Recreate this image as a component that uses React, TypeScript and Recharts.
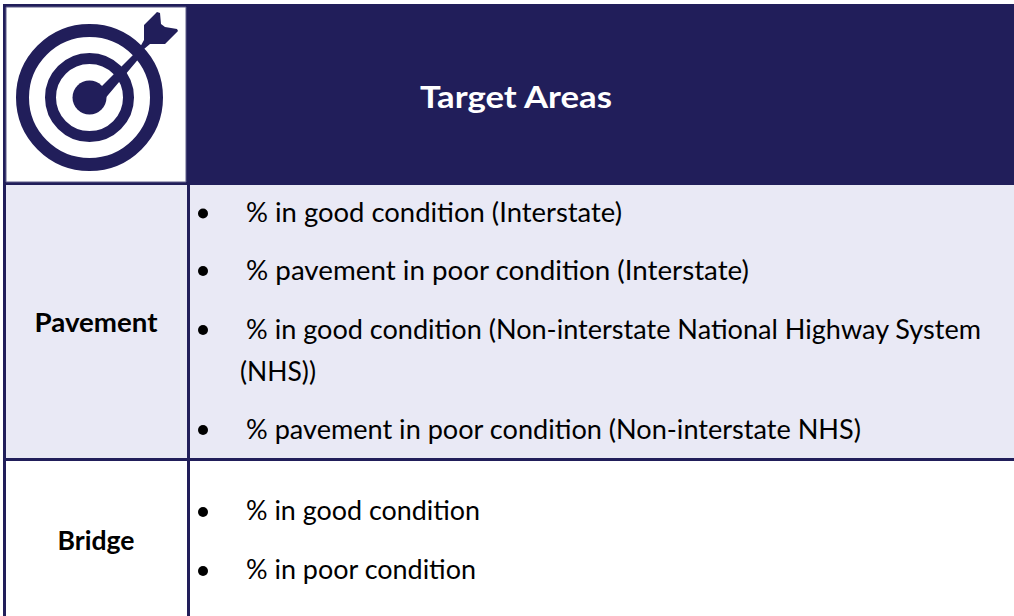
import React from "react";
import { ComposedChart, XAxis, YAxis, ReferenceArea, ReferenceDot } from "recharts";

const W = 1014;
const H = 616;
const NAVY = "#211e5a";
const LAVENDER = "#e9e9f5";
const FONT = "Lato, Carlito, sans-serif";

const title = "Target Areas";
const rowLabels = ["Pavement", "Bridge"];
const pavementItems = [
  "% in good condition (Interstate)",
  "% pavement in poor condition (Interstate)",
  "% in good condition (Non-interstate National Highway System",
  "(NHS))",
  "% pavement in poor condition (Non-interstate NHS)",
];
const bridgeItems = ["% in good condition", "% in poor condition"];

// layout only
const rowLabelY = [332, 550];
const rowLabelWidths = [123, 77];
const itemBaselines = [222, 280, 339, 381, 439, 520, 579];
const itemX = [246, 246, 246, 240, 246, 246, 246];
const itemWidths = [376, 503, 735, 76, 615, 234, 230];
const bulleted = [true, true, true, false, true, true, true];
const bulletX = 203;
const bulletY = [213.5, 271, 330, 0, 430, 512, 571];

const allItems = [...pavementItems, ...bridgeItems];

function Overlay() {
  return (
    <g>
      <path
        d="M103 101 L95 93 L139 49 L144 40 L144 25 L157 12 L160 13 L161 24 L165 27 L177 29 L178 31 L165 44 L150 44 L144 49 L141 56 Z"
        fill={NAVY}
      />
      <text x={516} y={108} textAnchor="middle" fill="#ffffff" fontFamily={FONT} fontWeight={700} fontSize={30} textLength={192} lengthAdjust="spacingAndGlyphs">
        {title}
      </text>
      {rowLabels.map((t, i) => (
        <text key={t} x={96} y={rowLabelY[i]} textAnchor="middle" fill="#000" fontFamily={FONT} fontWeight={700} fontSize={26} textLength={rowLabelWidths[i]} lengthAdjust="spacingAndGlyphs">
          {t}
        </text>
      ))}
      {allItems.map((t, i) => (
        <text key={i} x={itemX[i]} y={itemBaselines[i]} fill="#000" fontFamily={FONT} fontSize={26} textLength={itemWidths[i]} lengthAdjust="spacingAndGlyphs">
          {t}
        </text>
      ))}
    </g>
  );
}

export default function App() {
  return (
    <div style={{ position: "absolute", left: 0, top: 0, width: W, height: H, background: "#fff" }}>
      <ComposedChart width={W} height={H} data={[]} margin={{ top: 0, right: 0, bottom: 0, left: 0 }}>
        <XAxis type="number" dataKey="x" hide domain={[0, W]} allowDataOverflow />
        <YAxis type="number" hide reversed domain={[0, H]} allowDataOverflow />
        {/* header and frame */}
        <ReferenceArea x1={3} x2={W} y1={4} y2={185} fill={NAVY} fillOpacity={1} stroke="none" />
        <ReferenceArea x1={6} x2={186} y1={7} y2={182} fill="#ffffff" fillOpacity={1} stroke="#5f5c88" strokeWidth={1} />
        {/* pavement row */}
        <ReferenceArea x1={3} x2={W} y1={185} y2={458} fill={LAVENDER} fillOpacity={1} stroke="none" />
        {/* grid lines */}
        <ReferenceArea x1={3} x2={6} y1={185} y2={H} fill={NAVY} fillOpacity={1} stroke="none" />
        <ReferenceArea x1={187} x2={190} y1={185} y2={H} fill={NAVY} fillOpacity={1} stroke="none" />
        <ReferenceArea x1={3} x2={W} y1={458} y2={461} fill={NAVY} fillOpacity={1} stroke="none" />
        {/* overlay: arrow and all text */}
        <ReferenceArea x1={0} x2={W} y1={0} y2={H} fill="none" stroke="none" shape={<Overlay />} />
        {/* target icon */}
        <ReferenceDot x={89.5} y={97.5} r={67} fill="none" stroke={NAVY} strokeWidth={13} ifOverflow="visible" />
        <ReferenceDot x={89.5} y={97.5} r={39} fill="none" stroke={NAVY} strokeWidth={11} ifOverflow="visible" />
        <ReferenceDot x={89.5} y={97.5} r={17} fill={NAVY} stroke="none" ifOverflow="visible" />
        {/* bullets */}
        {allItems.map((_, i) =>
          bulleted[i] ? (
            <ReferenceDot key={i} x={bulletX} y={bulletY[i]} r={5} fill="#000" stroke="none" />
          ) : null
        )}
      </ComposedChart>
    </div>
  );
}
